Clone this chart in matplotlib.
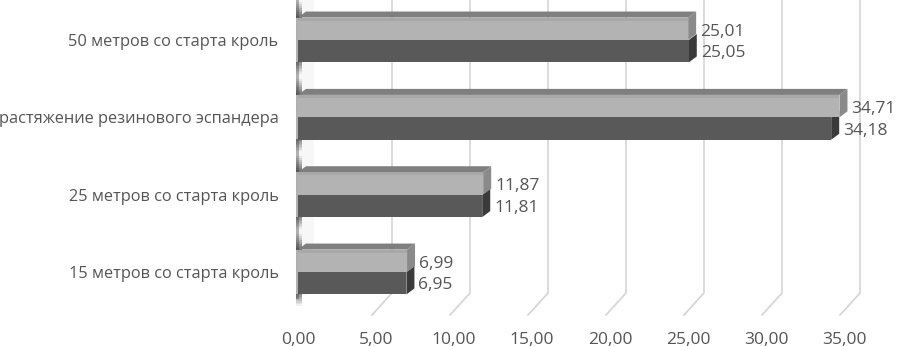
import matplotlib
matplotlib.use("Agg")
import matplotlib.pyplot as plt
from matplotlib.patches import Polygon, Rectangle
from matplotlib.lines import Line2D

# ---- data ----
categories = ["15 метров со старта кроль", "25 метров со старта кроль",
              "растяжение резинового эспандера", "50 метров со старта кроль"]
series_light = [6.99, 11.87, 34.71, 25.01]
series_dark = [6.95, 11.81, 34.18, 25.05]
x_ticks = [0, 5, 10, 15, 20, 25, 30, 35]
x_tick_labels = ["0,00", "5,00", "10,00", "15,00", "20,00", "25,00", "30,00", "35,00"]

def fmt(v):
    return f"{v:.2f}".replace(".", ",")

plt.rcParams['font.family'] = ['Open Sans', 'DejaVu Sans']
TXT = "#555555"

W, H = 898, 347
fig = plt.figure(figsize=(W / 100, H / 100), dpi=100)
ax_left_px, ax_right_px, ax_bottom_px = 298, 844, 315
ax = fig.add_axes([ax_left_px / W, (H - ax_bottom_px) / H,
                   (ax_right_px - ax_left_px) / W, ax_bottom_px / H])
ax.set_xlim(0, 35)
ylo, yhi = -0.556, 3.517
ax.set_ylim(ylo, yhi)
ax.patch.set_alpha(0)
for s in ax.spines.values():
    s.set_visible(False)

pxx = (ax_right_px - ax_left_px) / 35.0       # pixels per x unit
pxy = ax_bottom_px / (yhi - ylo)              # pixels per y unit
def dxu(p): return p / pxx
def dyu(p): return p / pxy

# ---- 3D gridlines (back wall + floor diagonals) ----
back_off = dxu(16)
floor_front_off = dxu(-4)
y_top = yhi + 0.1
y_backfloor = ylo + dyu(22)
for t in x_ticks[1:]:
    ax.add_line(Line2D([t + back_off, t + back_off, t + floor_front_off],
                       [y_top, y_backfloor, ylo], color="#d4d4d4", lw=1.2,
                       clip_on=False, zorder=1))

# ---- left side wall ----
wall_front = dxu(-1)
wall = Polygon([[wall_front, ylo + dyu(18)], [back_off, y_backfloor], [back_off, y_top], [wall_front, y_top]],
               closed=True, facecolor="#f7f7f7", edgecolor="none", clip_on=False, zorder=1)
ax.add_patch(wall)
ax.add_line(Line2D([wall_front, wall_front], [ylo + dyu(18), y_top], color="#b0b0b0", lw=2.2,
                   clip_on=False, zorder=2))

# ---- bars ----
bh = 0.29
ddx, ddy = dxu(8), dyu(6)
ypos = list(range(len(categories)))

def bar3d(v, y0, front, side, top=None, z=3):
    ax.add_patch(Polygon([[v, y0], [v, y0 + bh], [v + ddx, y0 + bh + ddy], [v + ddx, y0 + ddy]],
                         closed=True, facecolor=side, edgecolor="none", zorder=z, clip_on=False))
    if top is not None:
        ax.add_patch(Polygon([[0, y0 + bh], [v, y0 + bh], [v + ddx, y0 + bh + ddy], [ddx, y0 + bh + ddy]],
                             closed=True, facecolor=top, edgecolor="none", zorder=z, clip_on=False))
    ax.add_patch(Rectangle((0, y0), v, bh, facecolor=front, edgecolor="none", zorder=z + 0.5,
                           clip_on=False))

for i, y in enumerate(ypos):
    # wall shading near each group
    for k in range(8):
        a = 0.7 * (1 - k / 8)
        ax.add_patch(Rectangle((wall_front - dxu(1.5), y + bh + k * dyu(2)), dxu(6), dyu(2),
                               facecolor="#333333", alpha=a, edgecolor="none", zorder=2, clip_on=False))
        ax.add_patch(Rectangle((wall_front - dxu(1.5), y - bh - dyu(1) - k * dyu(1.5)), dxu(6), dyu(1.5),
                               facecolor="#333333", alpha=a * 0.8, edgecolor="none", zorder=2, clip_on=False))
    bar3d(series_dark[i], y - bh, "#595959", "#3a3a3a", None, z=3)
    bar3d(series_light[i], y, "#b3b3b3", "#8a8a8a", "#7f7f7f", z=4)
    # thin strip along top of light bar
    ax.add_patch(Rectangle((0, y + bh - dyu(3)), series_light[i], dyu(3), facecolor="#a8a8a8",
                           edgecolor="none", zorder=4.6, clip_on=False))
    ax.text(series_light[i] + ddx + dxu(4), y + bh / 2 - dyu(3), fmt(series_light[i]),
            ha="left", va="center", fontsize=12.5, color=TXT, zorder=6)
    ax.text(series_dark[i] + ddx + dxu(4), y - bh / 2 - dyu(2), fmt(series_dark[i]),
            ha="left", va="center", fontsize=12.5, color=TXT, zorder=6)

# ---- axes ticks / labels ----
ax.set_yticks(ypos)
ax.set_yticklabels(categories, fontsize=11.8, color=TXT)
ax.tick_params(axis="y", length=0, pad=14)
ax.set_xticks(x_ticks)
ax.set_xticklabels(x_tick_labels, fontsize=12.5, color=TXT)
ax.tick_params(axis="x", length=0, pad=12)

fig.savefig("out.png", dpi=100)
